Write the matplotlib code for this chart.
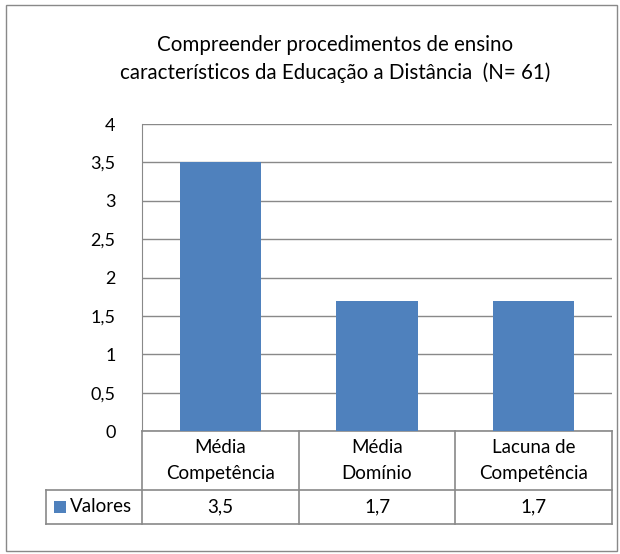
import matplotlib
matplotlib.use("Agg")
import matplotlib.pyplot as plt
from matplotlib.patches import Rectangle
import matplotlib.transforms as mtransforms

plt.rcParams['font.family'] = ['Lato', 'DejaVu Sans']

# data
categorias = ["Média\nCompetência", "Média\nDomínio", "Lacuna de\nCompetência"]
valores = [3.5, 1.7, 1.7]
rotulos_valores = ["3,5", "1,7", "1,7"]
serie = "Valores"
yticks = [0, 0.5, 1, 1.5, 2, 2.5, 3, 3.5, 4]
ytick_labels = ["0", "0,5", "1", "1,5", "2", "2,5", "3", "3,5", "4"]
titulo = "Compreender procedimentos de ensino\ncaracterísticos da Educação a Distância  (N= 61)"

W, H = 620, 554
azul = "#4F81BD"
cinza = "#898989"
fs = 13.5

fig = plt.figure(figsize=(W / 100, H / 100), dpi=100)
fig.patch.set_facecolor("white")

# outer chart border
fig.patches.append(Rectangle((6 / W, 3 / H), 611 / W, 546 / H, transform=fig.transFigure,
                             fill=False, edgecolor=cinza, linewidth=1.0))

ax = fig.add_axes([142 / W, (H - 431) / H, 470 / W, 307 / H])
x = list(range(len(categorias)))
ax.bar(x, valores, width=0.52, color=azul, zorder=3)
ax.set_xlim(-0.5, 2.5)
ax.set_ylim(0, 4)
ax.set_yticks(yticks)
ax.set_yticklabels(ytick_labels, fontsize=13)
ax.set_xticks([])
ax.grid(axis="y", color=cinza, linewidth=1.0, zorder=0)
for s in ["top", "right", "bottom"]:
    ax.spines[s].set_visible(False)
ax.spines["left"].set_color(cinza)
ax.tick_params(axis="y", length=0, pad=19)

fig.text(335 / W, 1 - 59 / H, titulo, ha="center", va="center", fontsize=14.8,
         linespacing=1.48)

# data table below the plot
tr = mtransforms.blended_transform_factory(ax.transData, ax.transAxes)
h1 = 59 / 307
h2 = 93 / 307
x_left = (46 - 142) / 470 * 3 - 0.5
lk = dict(color=cinza, linewidth=1.2, transform=tr, clip_on=False)
for xb in [-0.5, 0.5, 1.5, 2.5]:
    ax.plot([xb, xb], [0, -h2], **lk)
ax.plot([x_left, 2.5], [-h1, -h1], **lk)
ax.plot([x_left, 2.5], [-h2, -h2], **lk)
ax.plot([x_left, x_left], [-h1, -h2], **lk)
ax.plot([-0.5, 2.5], [0, 0], **lk)

for xi, cat, rot in zip(x, categorias, rotulos_valores):
    ax.text(xi, -h1 / 2, cat, transform=tr, ha="center", va="center", fontsize=fs,
            linespacing=1.65)
    ax.text(xi, -(h1 + h2) / 2, rot, transform=tr, ha="center", va="center", fontsize=fs)

fig.patches.append(Rectangle((54 / W, 1 - 513 / H), 12 / W, 12 / H, transform=fig.transFigure,
                             facecolor=azul, edgecolor="none"))
fig.text(70 / W, 1 - 507 / H, serie, ha="left", va="center", fontsize=fs)

fig.savefig("out.png", dpi=100)
